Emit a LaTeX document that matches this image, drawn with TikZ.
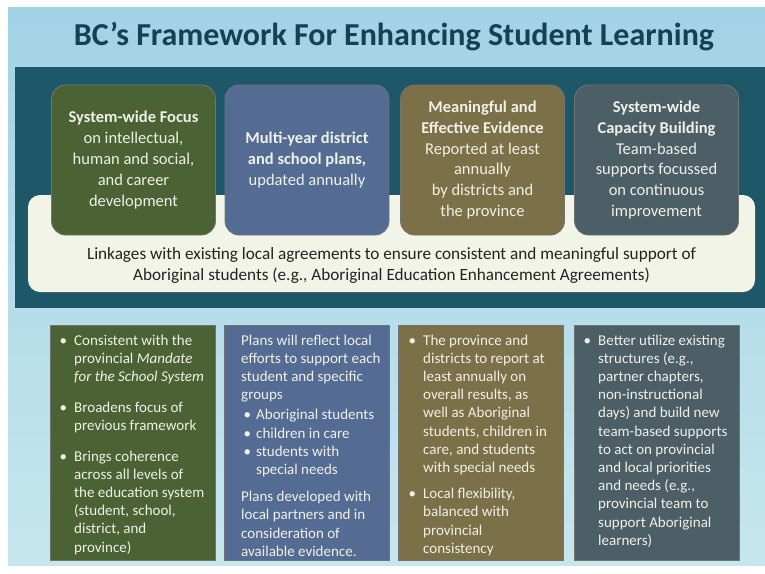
\documentclass[tikz,border=0pt]{standalone}
\usepackage{fontspec}
\setmainfont{Carlito}
\definecolor{bgtop}{RGB}{162,210,230}
\definecolor{bgbot}{RGB}{198,230,237}
\definecolor{band}{RGB}{30,88,104}
\definecolor{titlec}{RGB}{20,66,84}
\definecolor{cream}{RGB}{242,244,232}
\definecolor{cgreen}{RGB}{74,98,52}
\definecolor{cblue}{RGB}{84,108,148}
\definecolor{cbrown}{RGB}{124,112,72}
\definecolor{cgray}{RGB}{76,94,102}
\definecolor{txtw}{RGB}{240,240,230}
\definecolor{txtd}{RGB}{35,35,35}
\newcommand\bul[1]{\makebox[14.5pt][l]{\textbullet}#1}
\newcommand\ind[1]{\hspace*{14.5pt}#1}
\tikzset{
  topbox/.style={rounded corners=14pt, minimum width=164pt, minimum height=150pt,
    draw=black!55, line width=0.8pt, text=txtw, align=center,
    font=\fontsize{16.5}{20.8}\selectfont, inner sep=0pt},
  botbox/.style={draw=black!55, line width=0.8pt, minimum width=165pt,
    minimum height=235pt, inner sep=0pt},
  bottxt/.style={text=txtw, align=left, anchor=north west, inner sep=0pt,
    font=\fontsize{15}{18.2}\selectfont},
}
\begin{document}
\begin{tikzpicture}[x=1pt,y=-1pt]
\useasboundingbox (0,0) rectangle (765,573);
\fill[white] (0,0) rectangle (765,573);
\shade[top color=bgtop, bottom color=bgbot] (8,7) rectangle (765,565);
\node[text=titlec, font=\fontsize{32}{36}\selectfont\bfseries] (title) at (394,37) {BC’s Framework For Enhancing Student Learning};
\node[fill=band, minimum width=750pt, minimum height=241pt, inner sep=0pt] (band) at (390,187.5) {};
\node[fill=cream, rounded corners=12pt, minimum width=727pt, minimum height=97pt, inner sep=0pt] (strip) at (391.5,243.5) {};
\node[text=txtd, align=center, font=\fontsize{17.2}{21}\selectfont] (link) at (391.5,266) {Linkages with existing local agreements to ensure consistent and meaningful support of\\Aboriginal students (e.g., Aboriginal Education Enhancement Agreements)};
\node[topbox, fill=cgreen] (t1) at (133.5,160) {\textbf{System-wide Focus}\\on intellectual,\\human and social,\\and career\\development};
\node[topbox, fill=cblue] (t2) at (307,160) {\textbf{Multi-year district}\\\textbf{and school plans,}\\updated annually};
\node[topbox, fill=cbrown] (t3) at (482.5,160) {\textbf{Meaningful and}\\\textbf{Effective Evidence}\\Reported at least\\annually\\by districts and\\the province};
\node[topbox, fill=cgray] (t4) at (656.5,160) {\textbf{System-wide}\\\textbf{Capacity Building}\\Team-based\\supports focussed\\on continuous\\improvement};
\node[botbox, fill=cgreen] (b1) at (132.5,442.5) {};
\node[botbox, fill=cblue] (b2) at (306.5,442.5) {};
\node[botbox, fill=cbrown] (b3) at (481,442.5) {};
\node[botbox, fill=cgray] (b4) at (656.5,442.5) {};
\node[bottxt] (x1) at (59.5,334.5) {\bul{Consistent with the}\\\ind{provincial \emph{Mandate}}\\\ind{\emph{for the School System}}\\[12.5pt]\bul{Broadens focus of}\\\ind{previous framework}\\[12.5pt]\bul{Brings coherence}\\\ind{across all levels of}\\\ind{the education system}\\\ind{(student, school,}\\\ind{district, and}\\\ind{province)}};
\node[bottxt] (x2) at (241,334.5) {Plans will reflect local\\efforts to support each\\student and specific\\groups\\[2pt]\makebox[15pt][l]{\,\textbullet}Aboriginal students\\\makebox[15pt][l]{\,\textbullet}children in care\\\makebox[15pt][l]{\,\textbullet}students with\\\hspace*{15pt}special needs\\[9pt]Plans developed with\\local partners and in\\consideration of\\available evidence.};
\node[bottxt] (x3) at (408.5,334.5) {\bul{The province and}\\\ind{districts to report at}\\\ind{least annually on}\\\ind{overall results, as}\\\ind{well as Aboriginal}\\\ind{students, children in}\\\ind{care, and students}\\\ind{with special needs}\\[8pt]\bul{Local flexibility,}\\\ind{balanced with}\\\ind{provincial}\\\ind{consistency}};
\node[bottxt] (x4) at (583.5,334.5) {\bul{Better utilize existing}\\\ind{structures (e.g.,}\\\ind{partner chapters,}\\\ind{non-instructional}\\\ind{days) and build new}\\\ind{team-based supports}\\\ind{to act on provincial}\\\ind{and local priorities}\\\ind{and needs (e.g.,}\\\ind{provincial team to}\\\ind{support Aboriginal}\\\ind{learners)}};
\end{tikzpicture}
\end{document}
